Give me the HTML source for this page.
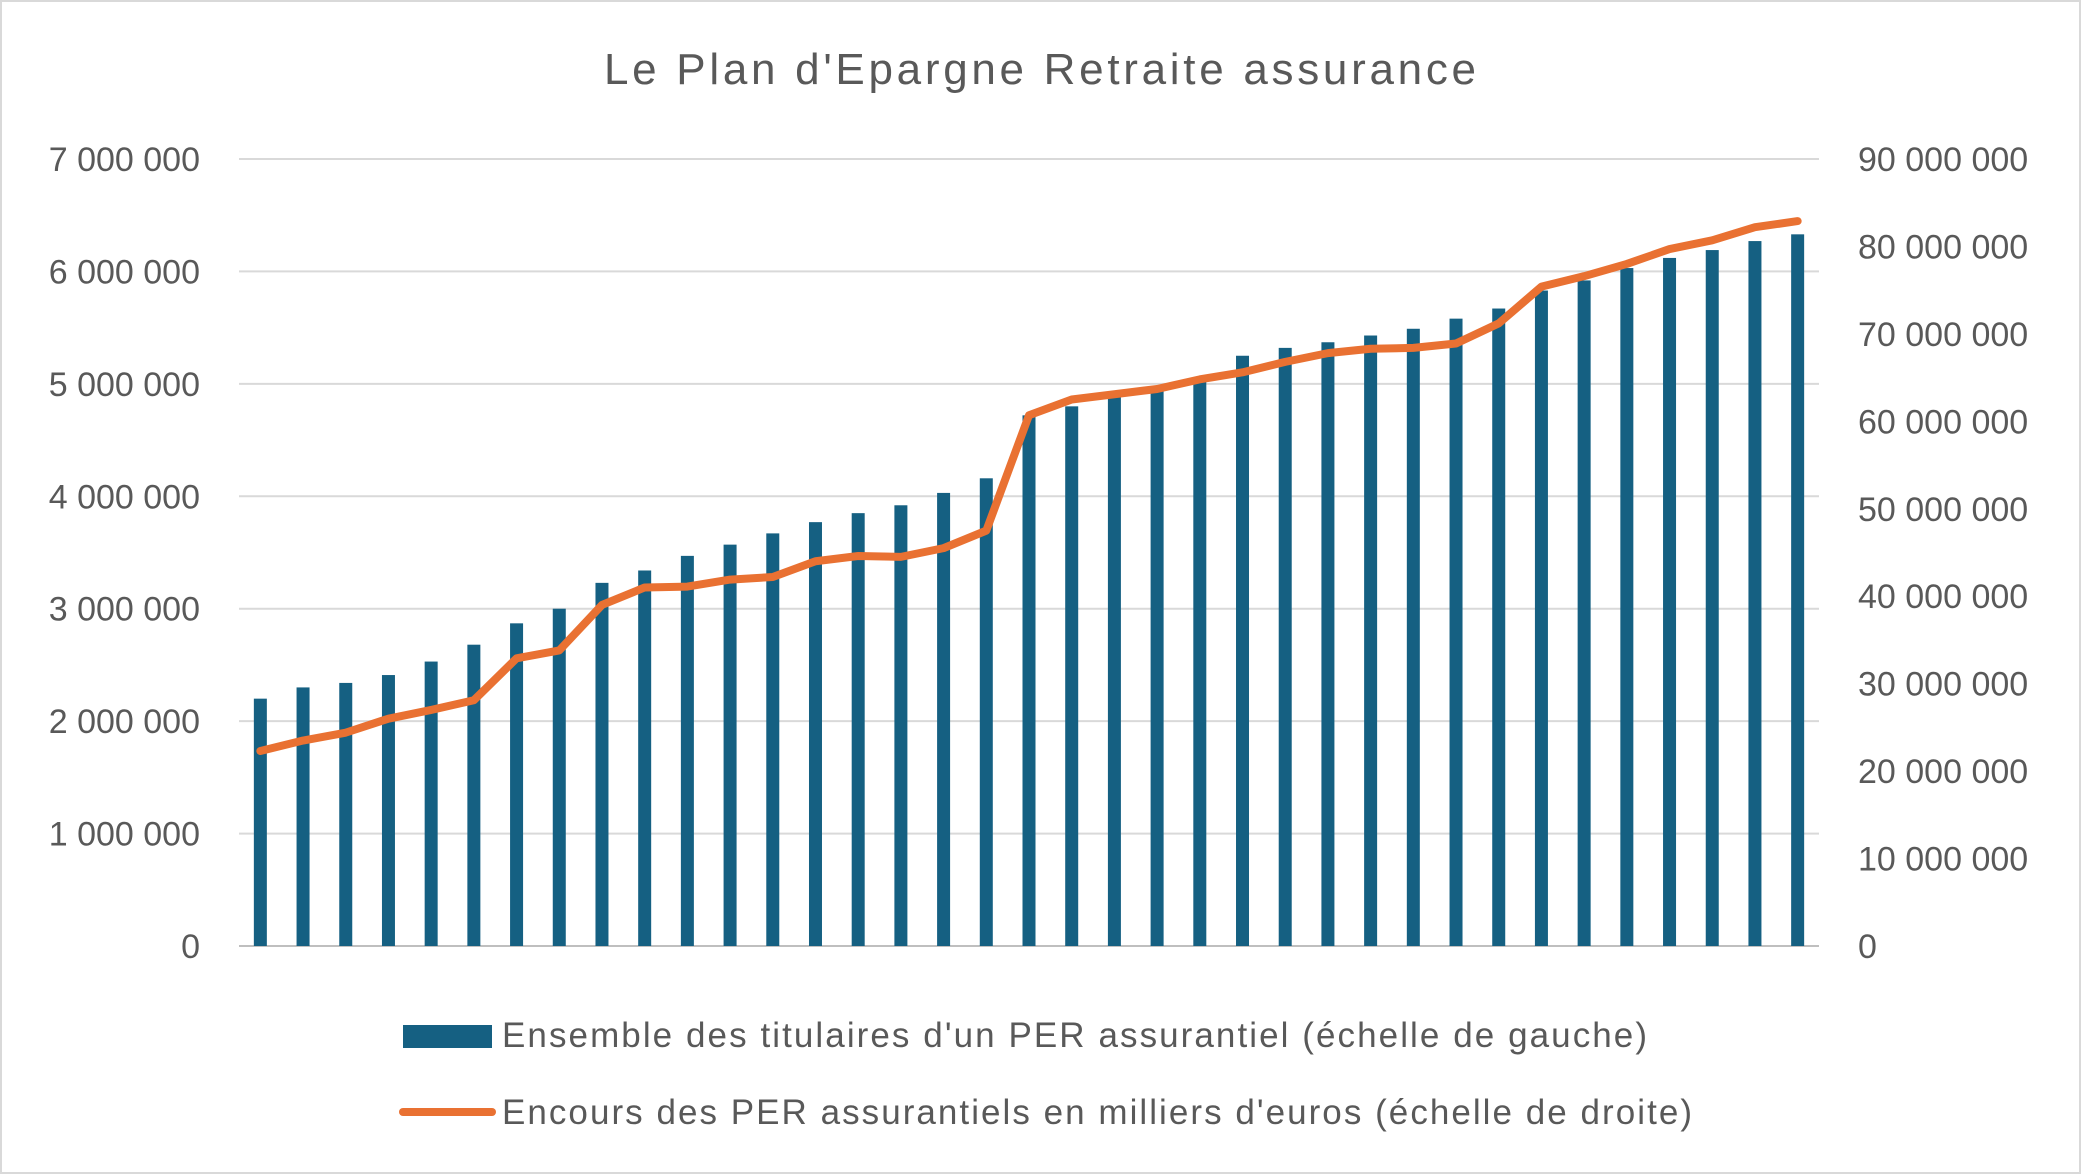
<!DOCTYPE html>
<html><head><meta charset="utf-8"><style>
html,body{margin:0;padding:0;background:#fff}
svg{display:block;font-family:"Liberation Sans",sans-serif}
</style></head><body>
<svg id="chart" width="2081" height="1174" viewBox="0 0 2081 1174">
<rect x="1" y="1" width="2079" height="1172" fill="#fff" stroke="#d9d9d9" stroke-width="2"/>
<text x="1040" y="84" text-anchor="middle" font-size="44" fill="#595959" textLength="872">Le Plan d'Epargne Retraite assurance</text>
<g id="grid"></g><g id="bars"></g><g id="line"></g><g id="axes"></g>
<g>
<rect x="403" y="1025" width="89" height="23" fill="#156082"/>
<text x="502" y="1047" font-size="35" fill="#595959" textLength="1145">Ensemble des titulaires d'un PER assurantiel (échelle de gauche)</text>
<line x1="403" y1="1112" x2="492" y2="1112" stroke="#E97132" stroke-width="8" stroke-linecap="round"/>
<text x="502" y="1124" font-size="35" fill="#595959" textLength="1190">Encours des PER assurantiels en milliers d'euros (échelle de droite)</text>
</g>
</svg>
<script>
const barValues=[2.2,2.3,2.34,2.41,2.53,2.68,2.87,3.0,3.23,3.34,3.47,3.57,3.67,3.77,3.85,3.92,4.03,4.16,4.72,4.8,4.88,4.96,5.03,5.25,5.32,5.37,5.43,5.49,5.58,5.67,5.83,5.92,6.03,6.12,6.19,6.27,6.33];
const lineValues=[22.3,23.5,24.4,26,27,28.1,32.9,33.8,39,41,41.1,41.9,42.2,44,44.6,44.5,45.5,47.5,60.7,62.5,63.1,63.7,64.8,65.6,66.8,67.8,68.3,68.4,68.9,71.2,75.4,76.6,78,79.7,80.7,82.2,82.9];
const leftTicks=[0,1,2,3,4,5,6,7];
const rightTicks=[0,10,20,30,40,50,60,70,80,90];
const NS="http://www.w3.org/2000/svg";
const L=239,R=1819,Y0=946,YT=159;
const n=barValues.length,step=(R-L)/n;
const yL=v=>Y0-(v/7)*(Y0-YT);
const yR=v=>Y0-(v/90)*(Y0-YT);
const xC=i=>L+step*(i+0.5);
const fmt=v=>v===0?"0":String(v*1000000).replace(/\B(?=(\d{3})+(?!\d))/g," ");
function mk(tag,attrs,parent){const e=document.createElementNS(NS,tag);for(const k in attrs)e.setAttribute(k,attrs[k]);document.getElementById(parent).appendChild(e);return e;}
leftTicks.forEach(t=>{
 const g=mk("line",{x1:L,x2:R,y1:yL(t),y2:yL(t),stroke:t===0?"#bfbfbf":"#d9d9d9","stroke-width":2},"grid");
 
 
 const tx=mk("text",{x:200,y:yL(t)+12,"text-anchor":"end","font-size":34,fill:"#595959"},"axes");
 tx.textContent=fmt(t);
 
 
});
rightTicks.forEach(t=>{
 const tx=mk("text",{x:1858,y:yR(t)+12,"font-size":34,fill:"#595959"},"axes");
 tx.textContent=fmt(t);
 
 
});
barValues.forEach((v,i)=>{
 const b=mk("rect",{x:xC(i)-6.5,y:yL(v),width:13,height:Y0-yL(v),fill:"#156082"},"bars");
 
 
});
const p=mk("polyline",{points:lineValues.map((v,i)=>xC(i)+","+yR(v)).join(" "),fill:"none",stroke:"#E97132","stroke-width":8,"stroke-linejoin":"round","stroke-linecap":"round"},"line");


</script>
</body></html>
